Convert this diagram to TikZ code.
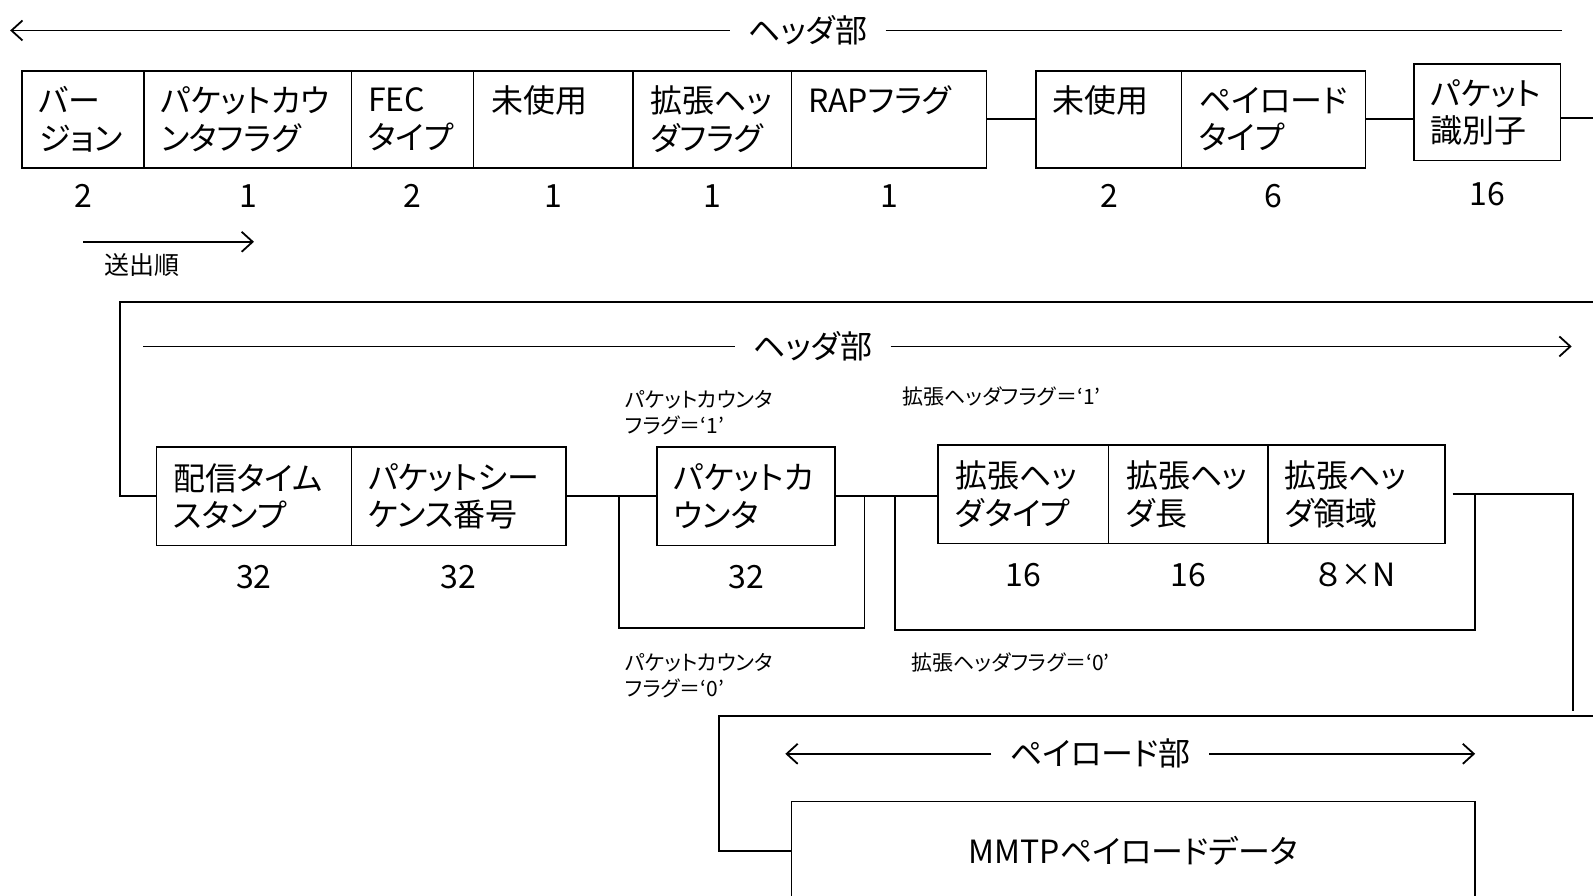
\documentclass[tikz,border=0pt]{standalone}
\usepackage{fontspec}
\setmainfont{Noto Sans CJK JP}[RawFeature=+palt]
\usetikzlibrary{arrows.meta}
\newcommand\mkcell[5]{\node[cellbox, minimum width={(#4-#2)*0.508pt}, minimum height={(#5-#3)*0.508pt}] (#1) at (#2,#3) {};}
\begin{document}
\begin{tikzpicture}[x=0.508pt,y=-0.508pt,
  cellbox/.style={draw, line width=0.9pt, inner sep=0pt, outer sep=0pt, anchor=north west},
  lbl/.style={anchor=west, align=left, inner sep=0pt, font=\fontsize{16pt}{18.8pt}\selectfont},
  num/.style={inner sep=0pt, font=\fontsize{16pt}{19pt}\selectfont},
  small/.style={anchor=west, align=left, inner sep=0pt, font=\fontsize{10.5pt}{13.2pt}\selectfont},
  hdr/.style={inner xsep=9pt, inner ysep=0pt, font=\fontsize{16pt}{19pt}\selectfont},
  ln/.style={line width=0.9pt},
  arr/.style={ln, -{Straight Barb[length=5.5pt,width=10pt]}}]
\useasboundingbox (0,0) rectangle (1568,881);

% ---------- row 1 ----------
\node[hdr] (h1) at (795,30) {ヘッダ部};
\coordinate (h1l) at (10,30);
\coordinate (h1r) at (1537,30);
\draw[arr] (h1.west) -- (h1l);
\draw[ln] (h1.east) -- (h1r);

\mkcell{ver}{22}{70}{142}{165}
\mkcell{pcf}{142}{70}{346}{165}
\mkcell{fec}{346}{70}{466}{165}
\mkcell{unA}{466}{70}{623}{165}
\mkcell{ehf}{623}{70}{779}{165}
\mkcell{rap}{779}{70}{971}{165}
\mkcell{unB}{1020}{70}{1163}{165}
\mkcell{pt}{1163}{70}{1344}{165}
\mkcell{pid}{1392}{63}{1536}{158}

\node[lbl] (tver) at ([xshift=8.1pt]ver.west) {バー\\ジョン};
\node[lbl] (tpcf) at ([xshift=8.1pt]pcf.west) {パケットカウ\\ンタフラグ};
\node[lbl] (tfec) at ([xshift=8.1pt]fec.west) {FEC\\タイプ};
\node[lbl] (tunA) at ([xshift=9pt,yshift=9.4pt]unA.west) {未使用};
\node[lbl] (tehf) at ([xshift=8.6pt]ehf.west) {拡張ヘッ\\ダフラグ};
\node[lbl] (trap) at ([xshift=8.1pt,yshift=9.4pt]rap.west) {RAPフラグ};
\node[lbl] (tunB) at ([xshift=8.1pt,yshift=9.4pt]unB.west) {未使用};
\node[lbl] (tpt) at ([xshift=8.6pt]pt.west) {ペイロード\\タイプ};
\node[lbl] (tpid) at ([xshift=8.1pt]pid.west) {パケット\\識別子};

\path (ver.south) ++(0,28) node[num] (nver) {2};
\path (pcf.south) ++(0,28) node[num] (npcf) {1};
\path (fec.south) ++(0,28) node[num] (nfec) {2};
\path (unA.south) ++(0,28) node[num] (nunA) {1};
\path (ehf.south) ++(0,28) node[num] (nehf) {1};
\path (rap.south) ++(0,28) node[num] (nrap) {1};
\path (unB.south) ++(0,28) node[num] (nunB) {2};
\path (pt.south) ++(0,28) node[num] (npt) {6};
\path (pid.south) ++(0,33) node[num] (npid) {16};

\draw[ln] (rap.east) -- (unB.west);
\draw[ln] (pt.east) -- (pt.east -| pid.west);
\coordinate (r1) at (1568,116);
\draw[ln] (pid.east |- r1) -- (r1);

\coordinate (so1) at (82,238);
\coordinate (so2) at (250,238);
\draw[arr] (so1) -- (so2);
\node[inner sep=0pt, font=\fontsize{12.5pt}{15pt}\selectfont] (sot) at (140,261) {送出順};

% ---------- row 2 ----------
\coordinate (w0) at (1568,297);
\coordinate (wc) at (118,297);
\node[hdr] (h2) at (800,341) {ヘッダ部};
\coordinate (h2l) at (141,341);
\coordinate (h2r) at (1547,341);
\draw[ln] (h2l) -- (h2.west);
\draw[arr] (h2.east) -- (h2r);

\mkcell{ts}{154}{440}{346}{537}
\mkcell{psn}{346}{440}{557}{537}
\mkcell{pc}{647}{440}{822}{537}
\mkcell{eht}{923}{438}{1091}{535}
\mkcell{ehl}{1091}{438}{1248}{535}
\mkcell{ehr}{1248}{438}{1422}{535}

\node[lbl] (tts) at ([xshift=8.1pt]ts.west) {配信タイム\\スタンプ};
\node[lbl] (tpsn) at ([xshift=8.1pt]psn.west) {パケットシー\\ケンス番号};
\node[lbl] (tpc) at ([xshift=8.1pt]pc.west) {パケットカ\\ウンタ};
\node[lbl] (teht) at ([xshift=8.6pt]eht.west) {拡張ヘッ\\ダタイプ};
\node[lbl] (tehl) at ([xshift=8.6pt]ehl.west) {拡張ヘッ\\ダ長};
\node[lbl] (tehr) at ([xshift=8.1pt]ehr.west) {拡張ヘッ\\ダ領域};

\path (ts.south) ++(0,31) node[num] (nts) {32};
\path (psn.south) ++(0,31) node[num] (npsn) {32};
\path (pc.south) ++(0,31) node[num] (npc) {32};
\path (eht.south) ++(0,31) node[num] (neht) {16};
\path (ehl.south) ++(0,31) node[num] (nehl) {16};
\path (ehr.south) ++(0,31) node[num] (nehr) {８×N};

\draw[ln] (w0) -- (wc) |- (ts.west);
\draw[ln] (psn.east) -- (pc.west);
\coordinate (b1l) at (609,488.5);
\coordinate (b1r) at (851,488.5);
\draw[ln] (b1l) -- ++(0,129.5) -| (b1r);
\draw[ln] (pc.east) -- (pc.east -| eht.west);
\coordinate (b2l) at (881,488.5);
\coordinate (b2r) at (1452,486.5);
\draw[ln] (b2l) -- ++(0,131.5) -| (b2r);
\coordinate (ve) at (1548,486.5);
\coordinate (vb) at (1548,700);
\draw[ln, shorten <=4pt] (ehr.east) -- (ve) -- (vb);

\node[small] (l1) at (615,406) {パケットカウンタ\\フラグ＝‘1’};
\node[small] (l2) at (888,390) {拡張ヘッダフラグ＝‘1’};
\node[small] (l3) at (615,665) {パケットカウンタ\\フラグ＝‘0’};
\node[small] (l4) at (897,652) {拡張ヘッダフラグ＝‘0’};

% ---------- row 3 ----------
\coordinate (w1) at (1568,705);
\coordinate (wc2) at (708,705);
\node[hdr] (h3) at (1083,742) {ペイロード部};
\coordinate (h3l) at (773,742);
\coordinate (h3r) at (1452,742);
\draw[arr] (h3.west) -- (h3l);
\draw[arr] (h3.east) -- (h3r);

\node[cellbox, minimum width={673*0.508pt}, minimum height={97*0.508pt}, font=\fontsize{16pt}{19pt}\selectfont] (mmtp) at (779,789) {MMTPペイロードデータ};
\draw[ln] (w1) -- (wc2) |- (mmtp.west);
\end{tikzpicture}
\end{document}
